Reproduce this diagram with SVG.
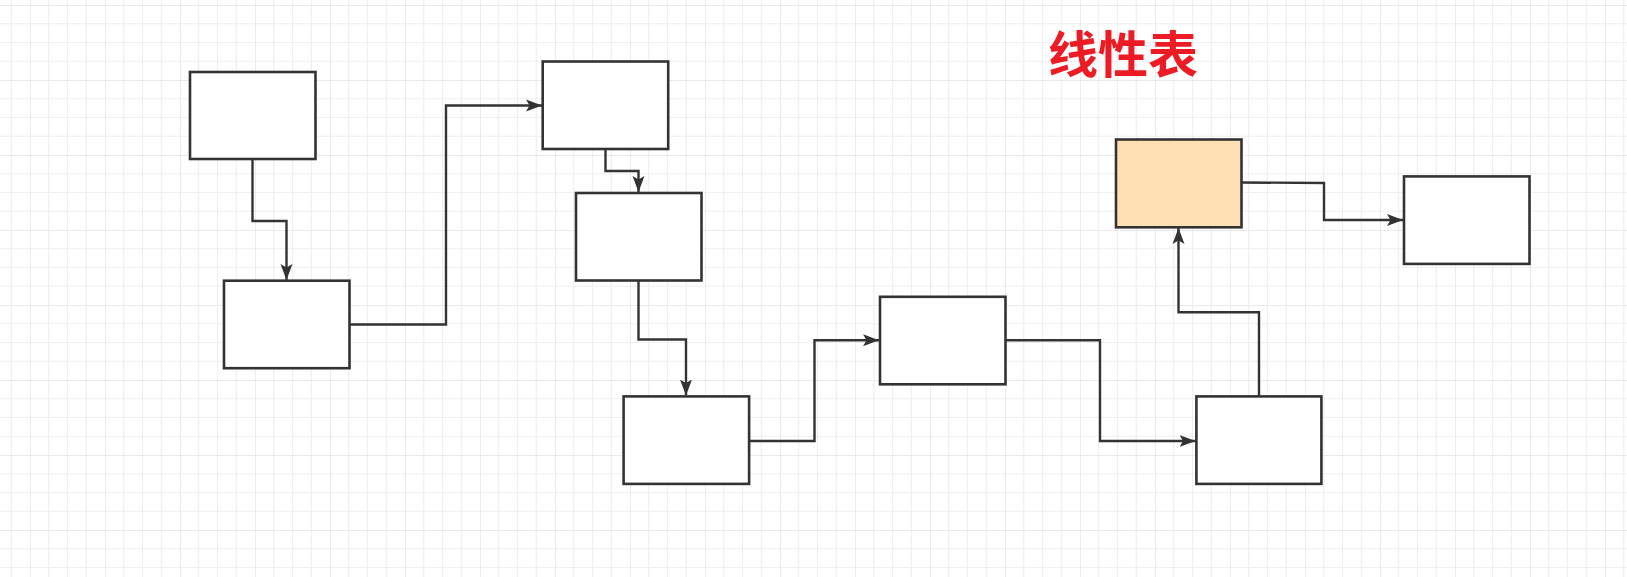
<svg xmlns="http://www.w3.org/2000/svg" width="1627" height="577" viewBox="0 0 1627 577">
<defs>
<pattern id="grid" patternUnits="userSpaceOnUse" x="30" y="5" width="75" height="75">
<path d="M18.75 0V75M37.5 0V75M56.25 0V75M0 18.75H75M0 37.5H75M0 56.25H75" stroke="#efefef" stroke-width="1.2" fill="none"/>
<path d="M0 0V75M0 0H75" stroke="#e4e4e4" stroke-width="1.4" fill="none"/>
</pattern>
<marker id="arr" markerUnits="userSpaceOnUse" viewBox="0 0 17 13" refX="16" refY="6.5" markerWidth="17" markerHeight="13" orient="auto">
<path d="M0 0.5L16 6.5L0 12.5L3.5 6.5Z" fill="#333333"/>
</marker>
</defs>
<style>
.box{fill:#ffffff;stroke:#333333;stroke-width:2.6}
.hl{fill:#ffe0b2}
.c{fill:none;stroke:#333333;stroke-width:2.4}
.t{font-family:"Noto Sans CJK SC","Noto Sans",sans-serif;font-weight:bold;font-size:50px;fill:#ed1c24}
</style>
<rect width="1627" height="577" fill="#ffffff"/>
<rect width="1627" height="577" fill="url(#grid)"/>
<g id="connectors">
<path class="c" d="M252.5 159V221H286.5V280" marker-end="url(#arr)"/>
<path class="c" d="M350 324.5H446V105.5H542" marker-end="url(#arr)"/>
<path class="c" d="M605.5 149.5V171H638.5V192" marker-end="url(#arr)"/>
<path class="c" d="M638.5 280.5V339.5H686V395.5" marker-end="url(#arr)"/>
<path class="c" d="M749.5 441H814.5V340.3H879" marker-end="url(#arr)"/>
<path class="c" d="M1005.5 340.3H1100V441H1195.5" marker-end="url(#arr)"/>
<path class="c" d="M1259 396.5V312.3H1178.5V228" marker-end="url(#arr)"/>
<path class="c" d="M1241.5 182.5L1324 183V220H1403" marker-end="url(#arr)"/>
</g>
<g id="n1"><rect class="box" x="190" y="72" width="125.5" height="87"/></g>
<g id="n2"><rect class="box" x="224" y="280.7" width="125.5" height="87.5"/></g>
<g id="n3"><rect class="box" x="542.7" y="61.5" width="125.5" height="87.5"/></g>
<g id="n4"><rect class="box" x="576" y="193" width="125.5" height="87.5"/></g>
<g id="n5"><rect class="box" x="623.6" y="396.4" width="125.5" height="87.5"/></g>
<g id="n6"><rect class="box" x="880" y="296.8" width="125.5" height="87.5"/></g>
<g id="n7"><rect class="box" x="1196.4" y="396.4" width="125" height="87.5"/></g>
<g id="n8"><rect class="box hl" x="1116" y="139.5" width="125.5" height="87.8"/></g>
<g id="n9"><rect class="box" x="1404" y="176.4" width="125.5" height="87.5"/></g>
<g id="title"><text class="t" x="1048" y="73">线性表</text></g>
</svg>
